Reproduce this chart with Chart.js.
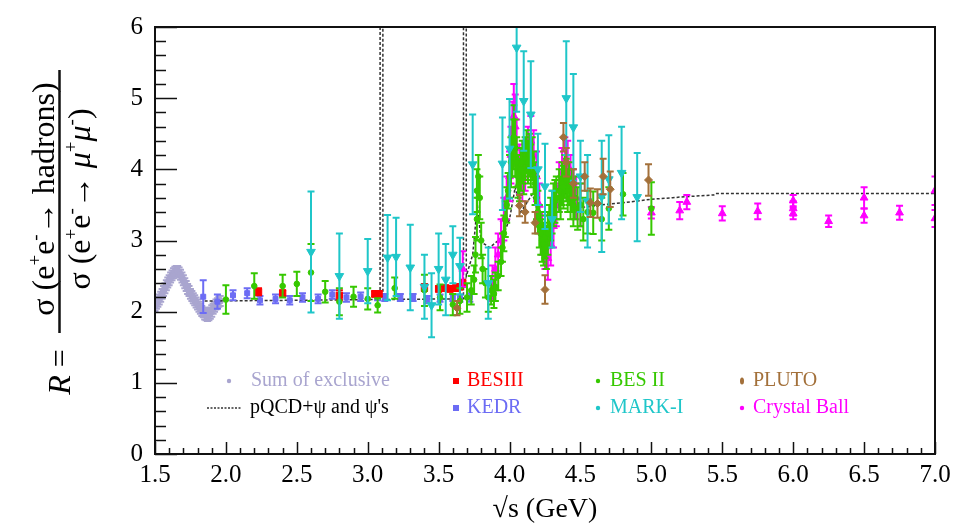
<!DOCTYPE html>
<html>
<head>
<meta charset="utf-8">
<script src="https://cdn.jsdelivr.net/npm/chart.js@4.4.1/dist/chart.umd.min.js"></script>
<style>
  html, body { margin: 0; padding: 0; background: #fff; }
  #wrap { width: 971px; height: 528px; position: relative; }
</style>
</head>
<body>
<div id="wrap"><canvas id="r-chart"></canvas></div>
<script>
// values: [sqrt(s) GeV, R, error]
var sumExclusive = [
  [1.50, 2.08, 0.07], [1.51, 2.11, 0.07], [1.52, 2.14, 0.07], [1.53, 2.17, 0.07], [1.54, 2.21, 0.07],
  [1.55, 2.25, 0.07], [1.56, 2.29, 0.07], [1.57, 2.33, 0.07], [1.58, 2.37, 0.07], [1.59, 2.41, 0.07],
  [1.60, 2.44, 0.07], [1.61, 2.48, 0.07], [1.62, 2.51, 0.07], [1.63, 2.54, 0.07], [1.64, 2.56, 0.07],
  [1.65, 2.57, 0.07], [1.66, 2.57, 0.07], [1.67, 2.55, 0.07], [1.68, 2.52, 0.07], [1.69, 2.48, 0.07],
  [1.70, 2.44, 0.07], [1.71, 2.40, 0.07], [1.72, 2.36, 0.07], [1.73, 2.32, 0.07], [1.74, 2.29, 0.07],
  [1.75, 2.25, 0.07], [1.76, 2.22, 0.07], [1.77, 2.19, 0.07], [1.78, 2.16, 0.07], [1.79, 2.13, 0.07],
  [1.80, 2.10, 0.07], [1.81, 2.07, 0.07], [1.82, 2.04, 0.07], [1.83, 2.01, 0.07], [1.84, 1.99, 0.07],
  [1.85, 1.97, 0.08], [1.86, 1.96, 0.08], [1.87, 1.95, 0.08], [1.88, 1.96, 0.08], [1.89, 1.98, 0.08],
  [1.90, 2.01, 0.08], [1.91, 2.04, 0.07], [1.92, 2.07, 0.07], [1.93, 2.10, 0.07], [1.94, 2.12, 0.07],
  [1.95, 2.14, 0.07], [1.96, 2.15, 0.07]
];

var besIII = [
  [2.23, 2.28, 0.05], [2.40, 2.26, 0.04], [2.80, 2.23, 0.07], [3.05, 2.25, 0.04], [3.08, 2.25, 0.04],
  [3.40, 2.34, 0.05], [3.50, 2.32, 0.04], [3.55, 2.33, 0.04], [3.58, 2.32, 0.04], [3.62, 2.33, 0.04],
  [3.65, 2.35, 0.04], [3.67, 2.40, 0.05]
];

var kedr = [
  [1.84, 2.21, 0.23], [1.94, 2.14, 0.10], [2.05, 2.23, 0.07], [2.15, 2.26, 0.07], [2.24, 2.16, 0.06],
  [2.35, 2.18, 0.06], [2.45, 2.16, 0.06], [2.54, 2.20, 0.06], [2.65, 2.18, 0.06], [2.75, 2.24, 0.06],
  [2.85, 2.20, 0.06], [2.95, 2.21, 0.06], [3.07, 2.22, 0.06], [3.12, 2.20, 0.05], [3.23, 2.20, 0.05],
  [3.32, 2.20, 0.05], [3.42, 2.17, 0.05], [3.51, 2.19, 0.05], [3.60, 2.20, 0.05], [3.65, 2.19, 0.05],
  [3.72, 2.20, 0.06]
];

var besII = [
  [2.00, 2.17, 0.20], [2.20, 2.36, 0.18], [2.40, 2.36, 0.16], [2.50, 2.39, 0.17], [2.60, 2.55, 0.40],
  [2.70, 2.28, 0.15], [2.80, 2.14, 0.19], [2.90, 2.21, 0.14], [3.00, 2.18, 0.15], [3.07, 2.09, 0.10],
  [3.19, 2.33, 0.15], [3.40, 2.30, 0.22], [3.51, 2.20, 0.18], [3.60, 2.10, 0.15], [3.65, 2.15, 0.18],
  [3.70, 2.20, 0.20],
  [3.73, 2.30, 0.20], [3.75, 2.45, 0.20], [3.76, 2.80, 0.25], [3.77, 3.30, 0.30], [3.77, 3.70, 0.30],
  [3.78, 3.90, 0.30], [3.79, 3.60, 0.30], [3.80, 3.00, 0.25], [3.81, 2.60, 0.20], [3.83, 2.40, 0.20],
  [3.85, 2.20, 0.20], [3.87, 2.30, 0.20], [3.89, 2.25, 0.20], [3.90, 2.35, 0.20], [3.92, 2.50, 0.20],
  [3.94, 2.70, 0.20], [3.95, 2.90, 0.20], [3.96, 3.10, 0.25], [3.97, 3.30, 0.25], [3.98, 3.50, 0.25],
  [3.99, 3.70, 0.25], [4.00, 3.90, 0.30], [4.01, 4.10, 0.35], [4.02, 4.30, 0.40], [4.03, 4.45, 0.45],
  [4.04, 4.30, 0.40], [4.05, 4.10, 0.35], [4.06, 3.90, 0.30], [4.07, 3.85, 0.30], [4.08, 4.00, 0.30],
  [4.09, 4.10, 0.30], [4.10, 3.95, 0.30], [4.11, 4.15, 0.30], [4.12, 4.25, 0.30], [4.13, 4.10, 0.30],
  [4.14, 4.20, 0.30], [4.15, 4.05, 0.30], [4.16, 4.15, 0.30], [4.17, 3.95, 0.30], [4.18, 3.80, 0.30],
  [4.19, 3.60, 0.30], [4.20, 3.40, 0.30], [4.21, 3.20, 0.30], [4.22, 3.10, 0.30], [4.23, 3.00, 0.30],
  [4.24, 2.95, 0.30], [4.25, 3.05, 0.30], [4.26, 2.90, 0.30], [4.27, 3.10, 0.30], [4.28, 3.20, 0.30],
  [4.29, 3.30, 0.30], [4.30, 3.40, 0.30], [4.31, 3.50, 0.30], [4.32, 3.55, 0.30], [4.33, 3.60, 0.30],
  [4.35, 3.70, 0.30], [4.36, 3.60, 0.30], [4.37, 3.80, 0.30], [4.38, 3.75, 0.30], [4.39, 3.90, 0.30],
  [4.40, 3.85, 0.30], [4.41, 3.70, 0.30], [4.42, 3.80, 0.30], [4.43, 3.60, 0.30], [4.44, 3.70, 0.30],
  [4.45, 3.50, 0.30], [4.46, 3.60, 0.30], [4.48, 3.45, 0.30], [4.50, 3.50, 0.30], [4.52, 3.30, 0.30],
  [4.55, 3.40, 0.30], [4.59, 3.39, 0.30], [4.65, 3.30, 0.30], [4.70, 3.45, 0.30], [4.80, 3.65, 0.30],
  [5.00, 3.45, 0.37]
];

var pluto = [
  [3.63, 2.05, 0.10], [4.07, 3.49, 0.15], [4.11, 3.40, 0.15], [4.18, 3.25, 0.15], [4.25, 2.31, 0.20],
  [4.38, 4.45, 0.20], [4.40, 4.10, 0.20], [4.45, 3.80, 0.20], [4.53, 3.90, 0.20], [4.57, 3.53, 0.20],
  [4.62, 3.52, 0.20], [4.66, 3.90, 0.25], [4.71, 3.72, 0.25], [4.98, 3.85, 0.22]
];

var markI = [
  [2.60, 2.84, 0.85], [2.80, 2.50, 0.60], [3.00, 2.57, 0.45], [3.14, 2.76, 0.60], [3.20, 2.77, 0.55],
  [3.30, 2.62, 0.60], [3.40, 2.35, 0.45], [3.45, 2.09, 0.45], [3.50, 2.60, 0.50], [3.55, 2.45, 0.50],
  [3.60, 2.80, 0.40], [3.65, 2.64, 0.40], [3.74, 4.07, 0.70], [3.85, 2.40, 0.50], [3.95, 4.08, 0.65],
  [4.00, 4.29, 0.70], [4.05, 5.71, 0.90], [4.10, 4.96, 0.70], [4.15, 4.77, 0.75], [4.20, 4.00, 0.50],
  [4.25, 3.76, 0.60], [4.30, 3.30, 0.40], [4.40, 5.00, 0.80], [4.45, 4.59, 0.75], [4.50, 3.90, 0.50],
  [4.55, 3.55, 0.65], [4.65, 3.62, 0.78], [4.70, 3.86, 0.62], [4.79, 3.95, 0.65], [4.90, 3.61, 0.62]
];

var crystalBall = [
  [3.67, 2.60, 0.25], [3.88, 2.40, 0.25], [3.90, 2.60, 0.30], [3.92, 2.80, 0.30], [3.94, 3.00, 0.30],
  [3.96, 3.30, 0.30], [3.98, 3.60, 0.30], [4.00, 3.90, 0.35], [4.01, 4.20, 0.40], [4.02, 4.50, 0.45],
  [4.03, 4.75, 0.45], [4.04, 4.60, 0.45], [4.05, 4.30, 0.40], [4.07, 4.00, 0.35], [4.09, 3.90, 0.35],
  [4.11, 4.05, 0.35], [4.13, 4.25, 0.35], [4.15, 4.40, 0.35], [4.17, 4.20, 0.35], [4.19, 3.90, 0.35],
  [4.21, 3.50, 0.30], [4.23, 3.10, 0.30], [4.25, 2.90, 0.30], [4.27, 2.75, 0.30], [4.29, 2.95, 0.30],
  [4.31, 3.20, 0.30], [4.33, 3.50, 0.30], [4.35, 3.75, 0.35], [4.37, 3.95, 0.35], [4.39, 4.10, 0.35],
  [4.41, 4.05, 0.35], [4.43, 3.85, 0.35], [4.45, 3.70, 0.30], [4.47, 3.60, 0.30], [4.50, 3.50, 0.30],
  [5.00, 3.39, 0.08], [5.20, 3.42, 0.12], [5.25, 3.54, 0.10], [5.50, 3.38, 0.10], [5.75, 3.41, 0.11],
  [6.00, 3.45, 0.10], [6.00, 3.56, 0.08], [6.00, 3.38, 0.08], [6.25, 3.27, 0.08], [6.50, 3.60, 0.15],
  [6.50, 3.35, 0.10], [6.75, 3.39, 0.10], [7.00, 3.70, 0.20], [7.00, 3.31, 0.12]
];

// pQCD + narrow resonances curve: [sqrt(s), R]
var pqcd = [
  [1.85, 2.15], [2.50, 2.16], [3.00, 2.17], [3.087, 2.17], [3.088, 20], [3.106, 20], [3.107, 2.17],
  [3.60, 2.18], [3.675, 2.18], [3.676, 20], [3.694, 20], [3.695, 2.50], [3.74, 2.80], [3.773, 3.50],
  [3.80, 2.98], [3.86, 2.90], [3.95, 3.05], [4.00, 3.30], [4.04, 3.75], [4.08, 3.40], [4.16, 3.65],
  [4.22, 3.35], [4.30, 3.35], [4.42, 3.75], [4.50, 3.46], [4.64, 3.50], [4.80, 3.53], [5.00, 3.58],
  [5.15, 3.60], [5.20, 3.61], [5.44, 3.64], [5.45, 3.66], [7.00, 3.66]
];

var xTicks = [1.5, 2.0, 2.5, 3.0, 3.5, 4.0, 4.5, 5.0, 5.5, 6.0, 6.5, 7.0];
var yTicks = [0, 1, 2, 3, 4, 5, 6];

var SERIF = "'Liberation Serif', Tinos, 'Times New Roman', Times, 'Noto Serif', 'DejaVu Serif', serif";

function pts(arr) { return arr.map(function (p) { return { x: p[0], y: p[1] }; }); }
function errs(arr) { return arr.map(function (p) { return p[2]; }); }

function series(label, arr, color, style, radius, rot) {
    return {
        label: label,
        data: pts(arr),
        errs: errs(arr),
        backgroundColor: color,
        borderColor: color,
        pointStyle: style,
        pointRadius: radius,
        pointRotation: rot || 0,
        pointBorderWidth: 1,
        showLine: false
    };
}

var errorBars = {
    id: 'errorBars',
    beforeDatasetDraw: function (chart, args) {
        var ds = chart.data.datasets[args.index];
        if (!ds.errs) return;
        var ctx = chart.ctx, ys = chart.scales.y, a = chart.chartArea;
        ctx.save();
        ctx.beginPath();
        ctx.rect(a.left, a.top, a.right - a.left, a.bottom - a.top);
        ctx.clip();
        ctx.strokeStyle = ds.borderColor;
        ctx.lineWidth = 2;
        args.meta.data.forEach(function (el, i) {
            var v = ds.data[i].y, e = ds.errs[i];
            var t = ys.getPixelForValue(v + e), b = ys.getPixelForValue(v - e);
            ctx.beginPath();
            ctx.moveTo(el.x, t); ctx.lineTo(el.x, b);
            ctx.moveTo(el.x - 3.5, t); ctx.lineTo(el.x + 3.5, t);
            ctx.moveTo(el.x - 3.5, b); ctx.lineTo(el.x + 3.5, b);
            ctx.stroke();
        });
        ctx.restore();
    }
};

// draws a run of text pieces centred on 0 along the baseline, with superscripts
function rich(ctx, parts, size) {
    var w = 0;
    parts.forEach(function (p) {
        var fs = Math.round(p.sup ? size * 0.6 : size);
        ctx.font = (p.it ? 'italic ' : '') + fs + 'px ' + SERIF;
        p.w = ctx.measureText(p.t).width;
        w += p.w;
    });
    var x = -w / 2;
    parts.forEach(function (p) {
        var fs = Math.round(p.sup ? size * 0.6 : size);
        ctx.font = (p.it ? 'italic ' : '') + fs + 'px ' + SERIF;
        ctx.fillText(p.t, x, p.sup ? -size * 0.42 : 0);
        x += p.w;
    });
}

var frame = {
    id: 'frame',
    afterDraw: function (chart) {
        var ctx = chart.ctx, a = chart.chartArea, xs = chart.scales.x, ys = chart.scales.y;
        ctx.save();
        ctx.strokeStyle = '#111';
        ctx.lineWidth = 2;
        ctx.strokeRect(a.left, a.top, a.right - a.left, a.bottom - a.top);
        ctx.lineWidth = 1.5;
        ctx.beginPath();
        for (var i = 0; i <= 55; i++) {
            var v = 1.5 + i * 0.1;
            var px = Math.round(xs.getPixelForValue(v)) + 0.5;
            var len = (i % 5 === 0) ? 12 : 6;
            ctx.moveTo(px, a.bottom); ctx.lineTo(px, a.bottom - len);
        }
        for (var j = 0; j <= 30; j++) {
            var py = Math.round(ys.getPixelForValue(j * 0.2)) + 0.5;
            var l2 = (j % 5 === 0) ? 22 : 11;
            ctx.moveTo(a.left, py); ctx.lineTo(a.left + l2, py);
        }
        ctx.stroke();

        // y title: R = fraction
        ctx.fillStyle = '#000';
        ctx.textBaseline = 'alphabetic';
        ctx.textAlign = 'left';
        ctx.save();
        ctx.translate(54, 199); ctx.rotate(-Math.PI / 2);
        rich(ctx, [{ t: 'σ (e' }, { t: '+', sup: 1 }, { t: 'e' }, { t: '-', sup: 1 }, { t: '→ hadrons)' }], 32);
        ctx.restore();
        ctx.save();
        ctx.translate(90, 199); ctx.rotate(-Math.PI / 2);
        rich(ctx, [{ t: 'σ (e' }, { t: '+', sup: 1 }, { t: 'e' }, { t: '-', sup: 1 }, { t: '→ ' },
            { t: 'μ', it: 1 }, { t: '+', sup: 1 }, { t: 'μ', it: 1 }, { t: '-', sup: 1 }, { t: ')' }], 32);
        ctx.restore();
        ctx.save();
        ctx.translate(70, 372); ctx.rotate(-Math.PI / 2);
        rich(ctx, [{ t: 'R', it: 1 }, { t: ' =' }], 32);
        ctx.restore();
        ctx.lineWidth = 2.5;
        ctx.beginPath();
        ctx.moveTo(59.5, 70); ctx.lineTo(59.5, 333);
        ctx.stroke();

        // x title
        ctx.font = '28px ' + SERIF;
        ctx.textAlign = 'center';
        ctx.textBaseline = 'middle';
        ctx.fillText('√s (GeV)', (a.left + a.right) / 2, 510);

        // legend
        ctx.font = '20px ' + SERIF;
        ctx.textAlign = 'left';
        var items = [
            ['Sum of exclusive', '#a9a5cf', 229, 381, 'dot', 251],
            ['BESIII', '#ff0000', 456, 381, 'rect', 467],
            ['BES II', '#36c800', 598, 381, 'dot', 610],
            ['PLUTO', '#a3703a', 742, 381, 'dia', 753],
            ['pQCD+ψ and ψ\'s', '#000', 224, 408, 'dash', 250],
            ['KEDR', '#6c6cf4', 456, 408, 'rect', 467],
            ['MARK-I', '#1fc6c9', 598, 408, 'dot', 610],
            ['Crystal Ball', '#ff00ff', 742, 408, 'dot', 753]
        ];
        items.forEach(function (it) {
            var mx = it[2], my = it[3];
            ctx.fillStyle = it[1];
            if (it[4] === 'dash') {
                ctx.save();
                ctx.strokeStyle = '#333';
                ctx.lineWidth = 1.5;
                ctx.setLineDash([2, 1.5]);
                ctx.beginPath(); ctx.moveTo(207, my); ctx.lineTo(242, my); ctx.stroke();
                ctx.restore();
            } else if (it[4] === 'rect') {
                ctx.fillRect(mx - 3, my - 3, 6, 6);
            } else if (it[4] === 'dia') {
                ctx.beginPath(); ctx.ellipse(mx, my, 2, 3.5, 0, 0, Math.PI * 2); ctx.fill();
            } else {
                ctx.beginPath(); ctx.arc(mx, my, 2.2, 0, Math.PI * 2); ctx.fill();
            }
            ctx.fillText(it[0], it[5], my);
        });
        ctx.restore();
    }
};

var ctx = document.getElementById('r-chart');
var rChart = new Chart(ctx, {
    type: 'scatter',
    data: {
        datasets: [
            series('PLUTO', pluto, '#a3703a', 'rectRot', 4),
            series('MARK-I', markI, '#1fc6c9', 'triangle', 5, 180),
            series('BES II', besII, '#36c800', 'circle', 2.8),
            series('Crystal Ball', crystalBall, '#ff00ff', 'triangle', 4.5),
            series('BESIII', besIII, '#ff0000', 'rect', 4.5),
            series('KEDR', kedr, '#6c6cf4', 'rect', 3.5),
            {
                label: 'pQCD+psi and psi\'s',
                data: pts(pqcd),
                showLine: true,
                pointRadius: 0,
                borderColor: '#333',
                borderWidth: 1.5,
                borderDash: [3, 2],
                tension: 0
            },
            series('Sum of exclusive', sumExclusive, '#a9a5cf', 'circle', 3.2)
        ]
    },
    options: {
        responsive: true,
        maintainAspectRatio: false,
        animation: false,
        layout: { padding: { top: 17, right: 36, left: 0, bottom: 0 } },
        plugins: { legend: { display: false }, tooltip: { enabled: false } },
        scales: {
            x: {
                type: 'linear', min: 1.5, max: 7.0,
                afterFit: function (s) { s.height = 74; },
                afterBuildTicks: function (s) { s.ticks = xTicks.map(function (v) { return { value: v }; }); },
                grid: { display: false, drawTicks: false },
                border: { display: false },
                ticks: {
                    autoSkip: false, maxRotation: 0, padding: 6, color: '#000',
                    font: { family: SERIF, size: 25 },
                    callback: function (v) { return v.toFixed(1); }
                }
            },
            y: {
                type: 'linear', min: 0, max: 6,
                afterFit: function (s) { s.width = 155; },
                afterBuildTicks: function (s) { s.ticks = yTicks.map(function (v) { return { value: v }; }); },
                grid: { display: false, drawTicks: false },
                border: { display: false },
                ticks: { padding: 12, color: '#000', font: { family: SERIF, size: 25 } }
            }
        }
    },
    plugins: [errorBars, frame]
});
</script>
</body>
</html>
